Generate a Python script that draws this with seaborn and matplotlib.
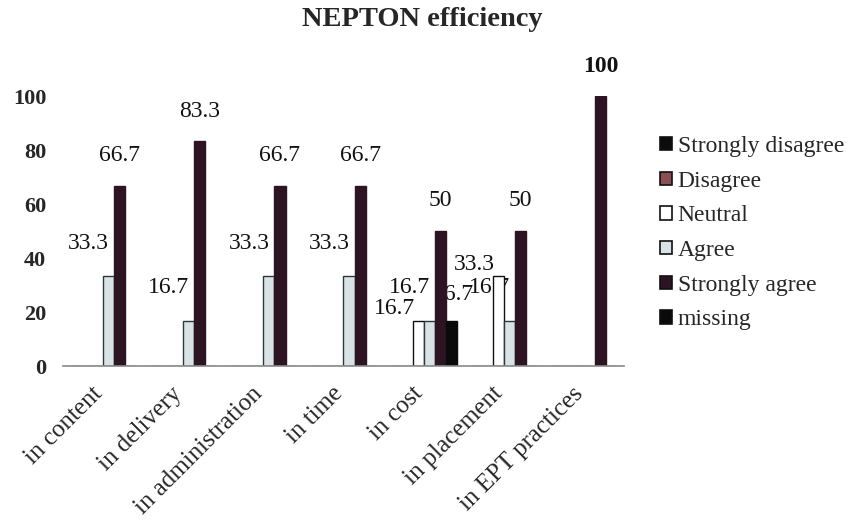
import matplotlib
matplotlib.use("Agg")
import matplotlib.pyplot as plt
from matplotlib.patches import Patch
from matplotlib.transforms import ScaledTranslation
import seaborn as sns
import pandas as pd

# Survey items and share of answers (%) per response category
categories = ["in content", "in delivery", "in administration", "in time",
              "in cost", "in placement", "in EPT practices"]
responses = ["Strongly disagree", "Disagree", "Neutral", "Agree",
             "Strongly agree", "missing"]
strongly_disagree = [0, 0, 0, 0, 0, 0, 0]
disagree = [0, 0, 0, 0, 0, 0, 0]
neutral = [0, 0, 0, 0, 16.7, 33.3, 0]
agree = [33.3, 16.7, 33.3, 33.3, 16.7, 16.7, 0]
strongly_agree = [66.7, 83.3, 66.7, 66.7, 50, 50, 100]
missing = [0, 0, 0, 0, 16.7, 0, 0]
y_ticks = [0, 20, 40, 60, 80, 100]

series = [strongly_disagree, disagree, neutral, agree, strongly_agree, missing]
rows = []
for resp, vals in zip(responses, series):
    for cat, v in zip(categories, vals):
        rows.append({"item": cat, "response": resp, "percent": v})
df = pd.DataFrame(rows)

face = {"Strongly disagree": "#0c0c0c", "Disagree": "#8c4e52",
        "Neutral": "#ffffff", "Agree": "#d9e2e4",
        "Strongly agree": "#2c1422", "missing": "#0a0a0a"}
edge = {"Strongly disagree": "#0c0c0c", "Disagree": "#8c4e52",
        "Neutral": "#111111", "Agree": "#2a3a3e",
        "Strongly agree": "#2c1422", "missing": "#0a0a0a"}
# label offsets in pixels relative to the top centre of each bar
label_offset = {"Neutral": (-24, 12), "Agree": (-20, 33),
                "Strongly agree": (0, 30), "missing": (2, 26),
                "Strongly disagree": (0, 30), "Disagree": (0, 30)}

sns.set_style("white")
plt.rcParams["font.family"] = ["Liberation Serif", "DejaVu Serif"]

fig = plt.figure(figsize=(8.54, 5.28), dpi=100)
ax = fig.add_axes([63 / 854, 1 - 366 / 528, 561 / 854, 270 / 528])

sns.barplot(data=df, x="item", y="percent", hue="response",
            order=categories, hue_order=responses,
            palette=[face[r] for r in responses], width=0.83,
            errorbar=None, saturation=1, legend=False, ax=ax)

for resp, cont in zip(responses, ax.containers):
    for bar in cont:
        bar.set_facecolor(face[resp])
        bar.set_edgecolor(edge[resp])
        bar.set_linewidth(1.0)
        bar.set_zorder(2)
        h = bar.get_height()
        if h > 0:
            ax.annotate(f"{h:g}", xy=(bar.get_x() + bar.get_width() / 2, h),
                        xytext=label_offset[resp], textcoords="offset pixels",
                        ha="center", va="center", fontsize=17,
                        fontweight="bold" if h >= 100 else "normal",
                        color="#111111", annotation_clip=False, zorder=1)

ax.set_ylim(0, 100)
ax.set_xlim(-0.5, len(categories) - 0.5)
ax.set_yticks(y_ticks)
ax.set_yticklabels([str(t) for t in y_ticks], fontsize=16, fontweight="bold")
ax.set_xlabel("")
ax.set_ylabel("")
ax.tick_params(axis="both", length=0)
ax.tick_params(axis="y", pad=12)
ax.tick_params(axis="x", pad=12)
for side in ["left", "right", "top"]:
    ax.spines[side].set_visible(False)
ax.spines["bottom"].set_color("#8a8a8a")
ax.spines["bottom"].set_linewidth(1.2)
ax.spines["bottom"].set_zorder(3)

shift = ScaledTranslation(-12 / 100, 0, fig.dpi_scale_trans)
for lab in ax.get_xticklabels():
    lab.set_rotation(45)
    lab.set_ha("right")
    lab.set_rotation_mode("anchor")
    lab.set_fontsize(18)
    lab.set_transform(lab.get_transform() + shift)

fig.text(422 / 854, 1 - 19 / 528, "NEPTON efficiency", ha="center",
         va="center", fontsize=20.5, fontweight="bold")

handles = [Patch(facecolor=face[r], edgecolor="#111111", linewidth=1.2)
           for r in responses]
fig.legend(handles, responses, loc="upper left",
           bbox_to_anchor=(660 / 854, 1 - 136 / 528), frameon=False,
           fontsize=17, handlelength=0.5, handleheight=0.5,
           handletextpad=0.25, labelspacing=0.58, borderpad=0,
           borderaxespad=0)

fig.savefig("out.png", dpi=100)
